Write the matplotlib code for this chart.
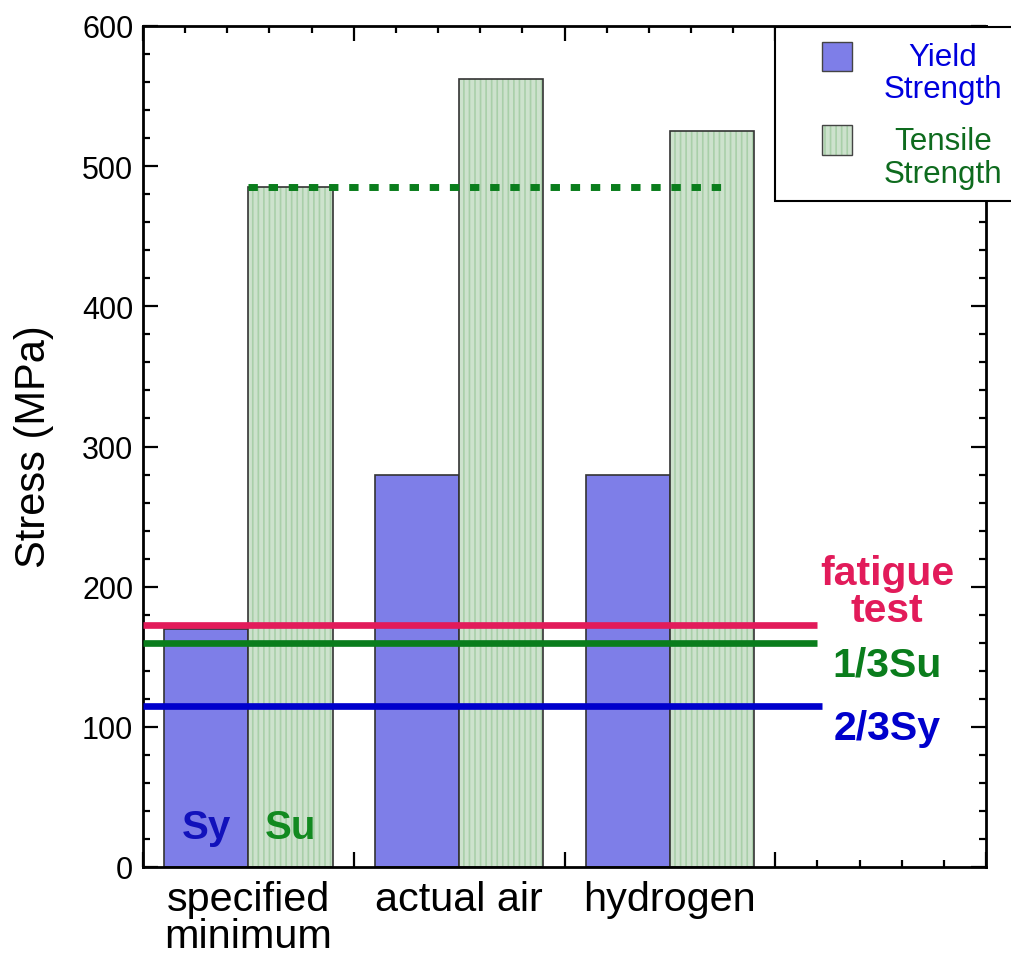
import matplotlib
matplotlib.use("Agg")
import matplotlib.pyplot as plt
from matplotlib.patches import Rectangle
from matplotlib.ticker import MultipleLocator
import matplotlib.transforms as mtransforms

plt.rcParams['font.family'] = ['Liberation Sans', 'DejaVu Sans']
plt.rcParams['hatch.linewidth'] = 1.2

# ---- data ----
groups = ['specified\nminimum', 'actual air', 'hydrogen']
yield_strength = [170, 280, 280]      # MPa
tensile_strength = [485, 562, 525]    # MPa
ref_labels = ['fatigue\ntest', '1/3Su', '2/3Sy']
ref_levels = [173, 160, 115]          # MPa
su_min_level = 485                    # specified minimum Su, MPa

# ---- styles ----
yield_color = '#7e7ee8'
tensile_color = '#cde2cd'
tensile_hatch = '#a9cfa9'
ref_colors = ['#e21b5a', '#0a7d1c', '#0000cc']
ref_ends = [16.0, 16.0, 16.1]
ref_text_y = [201.9, 136.3, 91.3]
group_centers = [2.5, 7.5, 12.5]
bar_w = 2.0

W, H = 1011, 954
fig = plt.figure(figsize=(W / 100, H / 100), dpi=100)
ax = fig.add_axes([143 / W, 1 - 868 / H, (986 - 143) / W, (868 - 27) / H])

yx = [c - 1 for c in group_centers]
tx = [c + 1 for c in group_centers]
ax.bar(yx, yield_strength, width=bar_w, color=yield_color,
       edgecolor='#333333', linewidth=1.2, zorder=2)
ax.bar(tx, tensile_strength, width=bar_w, color=tensile_color,
       edgecolor=tensile_hatch, linewidth=0, hatch='|||', zorder=2)
ax.bar(tx, tensile_strength, width=bar_w, fill=False,
       edgecolor='#333333', linewidth=1.2, zorder=2.1)

# specified-minimum tensile level carried across the groups
ax.plot([2.5, 13.9], [su_min_level, su_min_level], color='#0a7d1c',
        lw=5.0, dashes=(1.35, 1.55), solid_capstyle='butt',
        dash_capstyle='butt', zorder=3)

# design reference lines
for lvl, col, xe in zip(ref_levels, ref_colors, ref_ends):
    ax.plot([0, xe], [lvl, lvl], color=col, lw=4.8,
            solid_capstyle='butt', zorder=4)

step = 26.4
for lab, col, ty in zip(ref_labels, ref_colors, ref_text_y):
    for i, line in enumerate(lab.split('\n')):
        ax.text(17.65, ty - i * step, line, color=col, fontsize=29.5,
                fontweight='bold', ha='center', va='baseline', zorder=5)

ax.text(1.5, 20.7, 'Sy', color='#1111bb', fontsize=29,
        fontweight='bold', ha='center', va='baseline', zorder=5)
ax.text(3.5, 20.7, 'Su', color='#128a20', fontsize=29,
        fontweight='bold', ha='center', va='baseline', zorder=5)

ax.set_xlim(0, 20)
ax.set_ylim(0, 600)
ax.xaxis.set_major_locator(MultipleLocator(5))
ax.xaxis.set_minor_locator(MultipleLocator(1))
ax.yaxis.set_major_locator(MultipleLocator(100))
ax.yaxis.set_minor_locator(MultipleLocator(20))
ax.set_xticklabels([])
ax.tick_params(which='both', direction='in', top=True, right=True,
               width=1.6, colors='black')
ax.tick_params(which='major', length=10.5, labelsize=22, pad=7)
ax.tick_params(which='minor', length=5.2)
ax.tick_params(axis='x', labelbottom=False)
for s in ax.spines.values():
    s.set_linewidth(2.0)

# category labels under the axis
trans = mtransforms.blended_transform_factory(ax.transData, ax.transAxes)
for c, g in zip(group_centers, groups):
    for i, line in enumerate(g.split('\n')):
        ax.text(c, -0.0510 - i * 0.0440, line, transform=trans,
                fontsize=29.8, ha='center', va='baseline', clip_on=False)

fig.text(34 / W, 1 - 447 / H, 'Stress (MPa)', rotation=90,
         fontsize=30, ha='center', va='center')

# legend box
def fx(px):
    return px / W


def fy(py):
    return 1 - py / H


fig.add_artist(Rectangle((fx(775), fy(202)), fx(1030) - fx(775),
                         fy(28) - fy(202), transform=fig.transFigure,
                         facecolor='white', edgecolor='black', lw=1.5,
                         zorder=10))
fig.add_artist(Rectangle((fx(822), fy(72)), fx(852) - fx(822), fy(43) - fy(72),
                         transform=fig.transFigure, facecolor=yield_color,
                         edgecolor='#444444', lw=1.0, zorder=11))
fig.add_artist(Rectangle((fx(822), fy(156)), fx(852) - fx(822),
                         fy(126) - fy(156), transform=fig.transFigure,
                         facecolor=tensile_color, edgecolor=tensile_hatch,
                         hatch='|||', lw=0, zorder=11))
fig.add_artist(Rectangle((fx(822), fy(156)), fx(852) - fx(822),
                         fy(126) - fy(156), transform=fig.transFigure,
                         fill=False, edgecolor='#444444', lw=1.0, zorder=11.1))
for txt, py, col in [('Yield', 66, '#0000dd'), ('Strength', 98, '#0000dd'),
                     ('Tensile', 150, '#0e6b1e'), ('Strength', 183, '#0e6b1e')]:
    fig.text(fx(943), fy(py), txt, color=col, fontsize=22.6,
             ha='center', va='baseline', zorder=12)

fig.savefig('out.png', dpi=100)
